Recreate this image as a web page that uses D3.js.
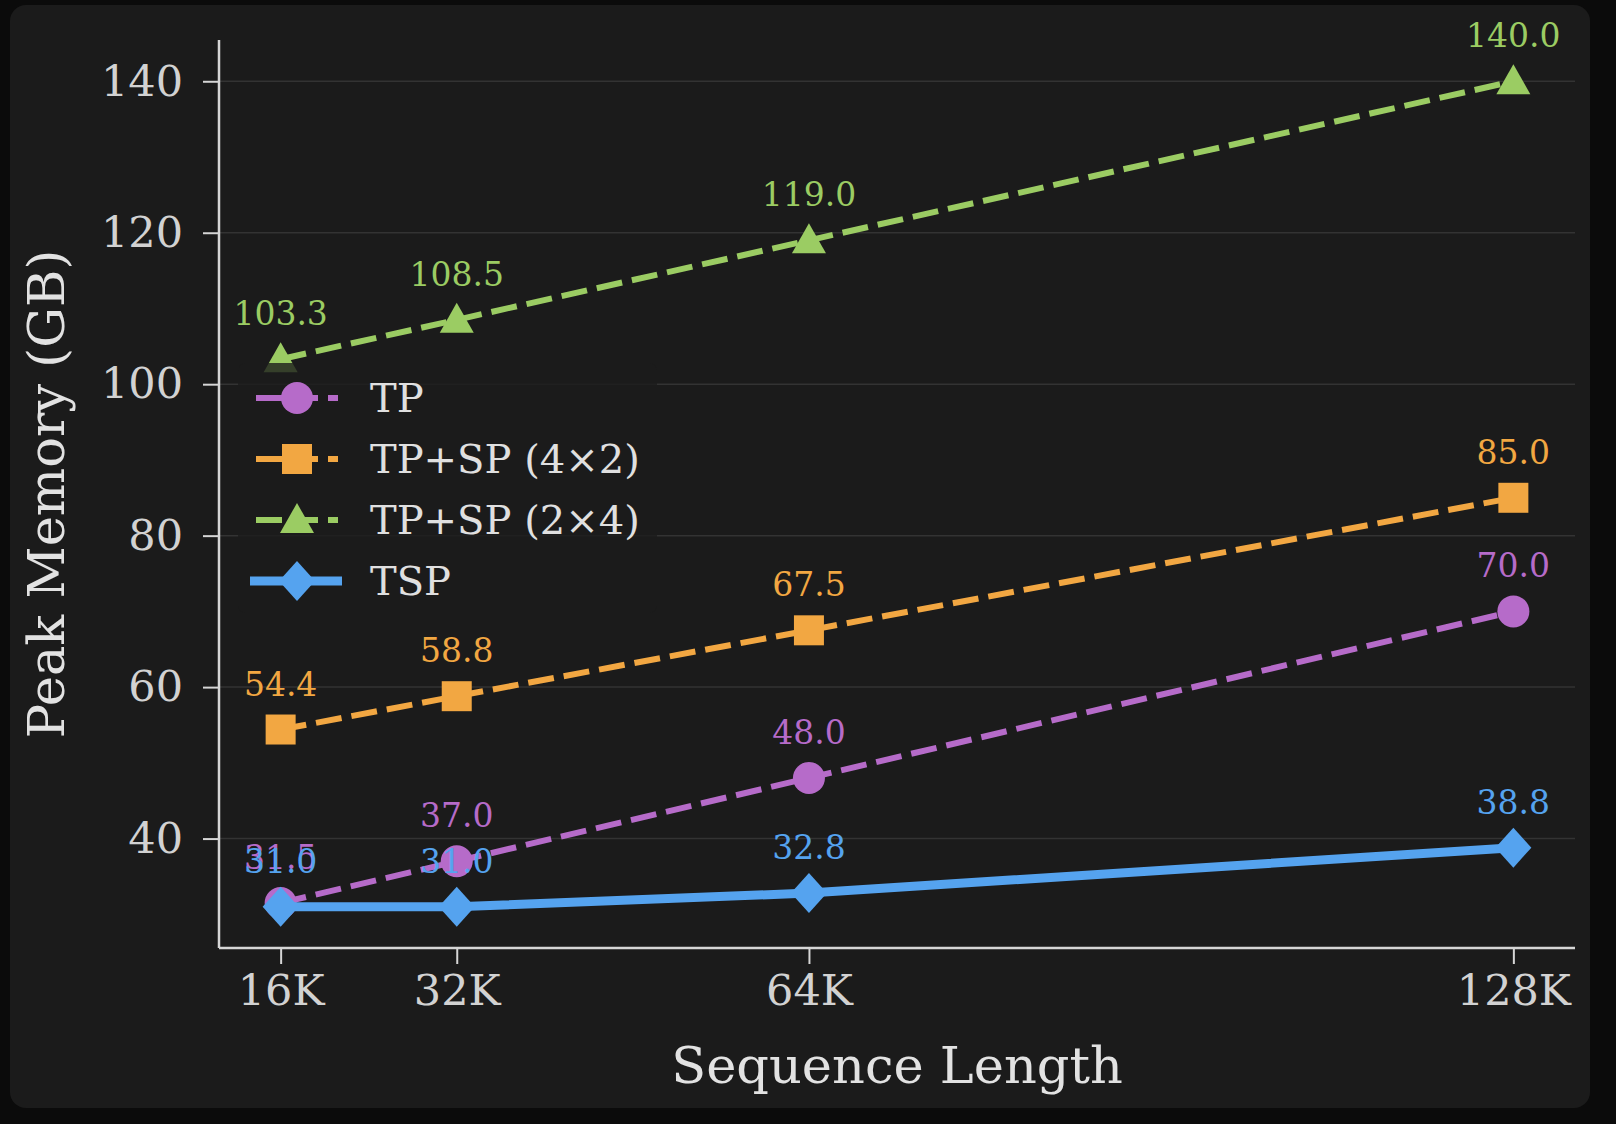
<!DOCTYPE html>
<html>
<head>
<meta charset="utf-8">
<script src="https://cdn.jsdelivr.net/npm/d3@7"></script>
<style>
  html, body { margin: 0; padding: 0; background: #0b0b0b; }
  svg { display: block; }
  text { font-family: "DejaVu Serif", serif; }
</style>
</head>
<body>
<svg id="chart" width="1616" height="1124"></svg>
<script>
// data
var seqLengths = [16, 32, 64, 128];
var tickLabels = ["16K", "32K", "64K", "128K"];
var yTicks = [40, 60, 80, 100, 120, 140];
var seriesNames = ["TP", "TP+SP (4×2)", "TP+SP (2×4)", "TSP"];
var tpValues = [31.5, 37.0, 48.0, 70.0];
var tpSp42Values = [54.4, 58.8, 67.5, 85.0];
var tpSp24Values = [103.3, 108.5, 119.0, 140.0];
var tspValues = [31.0, 31.0, 32.8, 38.8];

var series = [
  {name: seriesNames[0], values: tpValues, color: "#b66bc9", marker: "circle", dashed: true, width: 6},
  {name: seriesNames[1], values: tpSp42Values, color: "#f2a742", marker: "square", dashed: true, width: 6},
  {name: seriesNames[2], values: tpSp24Values, color: "#9bcc63", marker: "triangle", dashed: true, width: 6},
  {name: seriesNames[3], values: tspValues, color: "#55a3ef", marker: "diamond", dashed: false, width: 9}
];

var svg = d3.select("#chart"),
    margin = {top: 40, right: 41, bottom: 176, left: 219},
    width = +svg.attr("width") - margin.left - margin.right,
    height = +svg.attr("height") - margin.top - margin.bottom;

// panel
svg.append("rect")
    .attr("x", 10).attr("y", 5)
    .attr("width", 1580).attr("height", 1103)
    .attr("rx", 16)
    .attr("fill", "#1b1b1b");

var g = svg.append("g").attr("transform", "translate(" + margin.left + "," + margin.top + ")");

var xMin = d3.min(seqLengths), xMax = d3.max(seqLengths), xPad = (xMax - xMin) * 0.05;
var x = d3.scaleLinear()
    .domain([xMin - xPad, xMax + xPad])
    .range([0, width]);

var allVals = [].concat(tpValues, tpSp42Values, tpSp24Values, tspValues);
var yMin = d3.min(allVals), yMax = d3.max(allVals), yPad = (yMax - yMin) * 0.05;
var y = d3.scaleLinear()
    .domain([yMin - yPad, yMax + yPad])
    .range([height, 0]);

// grid
g.append("g")
  .selectAll("line")
  .data(yTicks)
  .enter().append("line")
    .attr("x1", 0).attr("x2", width)
    .attr("y1", function(d) { return y(d); })
    .attr("y2", function(d) { return y(d); })
    .attr("stroke", "#333333")
    .attr("stroke-width", 1.5);

// axes
var xAxis = g.append("g")
    .attr("transform", "translate(0," + height + ")")
    .call(d3.axisBottom(x).tickValues(seqLengths)
      .tickFormat(function(d, i) { return tickLabels[i]; })
      .tickSize(16).tickPadding(10));

var yAxis = g.append("g")
    .call(d3.axisLeft(y).tickValues(yTicks).tickSize(16).tickPadding(20));

[xAxis, yAxis].forEach(function(ax) {
  ax.select(".domain").attr("stroke", "#d6d6d6").attr("stroke-width", 2.5);
  ax.selectAll(".tick line").attr("stroke", "#d6d6d6").attr("stroke-width", 2);
  ax.selectAll(".tick text")
    .attr("fill", "#d2d2d2")
    .style("font-family", "DejaVu Serif")
    .style("font-size", "43px");
});
xAxis.select(".domain").attr("d", "M0,0H" + width);
yAxis.select(".domain").attr("d", "M0,0V" + height);
xAxis.selectAll(".tick text").attr("dy", "0.71em");

// axis titles
svg.append("text")
    .attr("x", margin.left + width / 2)
    .attr("y", 1083)
    .attr("text-anchor", "middle")
    .attr("fill", "#e2e2e2")
    .style("font-size", "51px")
    .text("Sequence Length");

svg.append("text")
    .attr("transform", "translate(64," + (margin.top + height / 2) + ") rotate(-90)")
    .attr("text-anchor", "middle")
    .attr("fill", "#e2e2e2")
    .style("font-size", "51px")
    .text("Peak Memory (GB)");

function markerPath(type) {
  if (type === "circle") return d3.symbol().type(d3.symbolCircle).size(Math.PI * 16 * 16)();
  if (type === "square") return d3.symbol().type(d3.symbolSquare).size(30 * 30)();
  if (type === "triangle") return "M0,-17L17,13L-17,13Z";
  return "M0,-20L18,0L0,20L-18,0Z";
}

var line = d3.line()
    .x(function(d, i) { return x(seqLengths[i]); })
    .y(function(d) { return y(d); });

series.forEach(function(s) {
  g.append("path")
      .datum(s.values)
      .attr("fill", "none")
      .attr("stroke", s.color)
      .attr("stroke-width", s.width)
      .attr("stroke-dasharray", s.dashed ? "26,10" : null)
      .attr("d", line);

  g.append("g").selectAll("path")
    .data(s.values)
    .enter().append("path")
      .attr("transform", function(d, i) { return "translate(" + x(seqLengths[i]) + "," + y(d) + ")"; })
      .attr("d", markerPath(s.marker))
      .attr("fill", s.color);
});

// value labels
series.forEach(function(s) {
  g.append("g").selectAll("text")
    .data(s.values)
    .enter().append("text")
      .attr("x", function(d, i) { return x(seqLengths[i]); })
      .attr("y", function(d) { return y(d) - 34; })
      .attr("text-anchor", "middle")
      .attr("fill", s.color)
      .style("font-size", "33px")
      .text(function(d) { return d.toFixed(1); });
});

// legend
var legend = svg.append("g").attr("transform", "translate(238,363)");
legend.append("rect")
    .attr("width", 419).attr("height", 250)
    .attr("rx", 8)
    .attr("fill", "#1b1b1b")
    .attr("fill-opacity", 0.8);

var item = legend.selectAll(".item")
    .data(series)
    .enter().append("g")
      .attr("class", "item")
      .attr("transform", function(d, i) { return "translate(0," + (35 + i * 61) + ")"; });

item.append("line")
    .attr("x1", function(d) { return d.dashed ? 18 : 12; })
    .attr("x2", function(d) { return d.dashed ? 100 : 104; })
    .attr("stroke", function(d) { return d.color; })
    .attr("stroke-width", function(d) { return d.width; })
    .attr("stroke-dasharray", function(d) { return d.dashed ? "26,10" : null; });

item.append("path")
    .attr("transform", "translate(59,0)")
    .attr("d", function(d) { return markerPath(d.marker); })
    .attr("fill", function(d) { return d.color; });

item.append("text")
    .attr("x", 132)
    .attr("dy", "0.35em")
    .attr("fill", "#e0e0e0")
    .style("font-size", "40px")
    .text(function(d) { return d.name; });
</script>
</body>
</html>
